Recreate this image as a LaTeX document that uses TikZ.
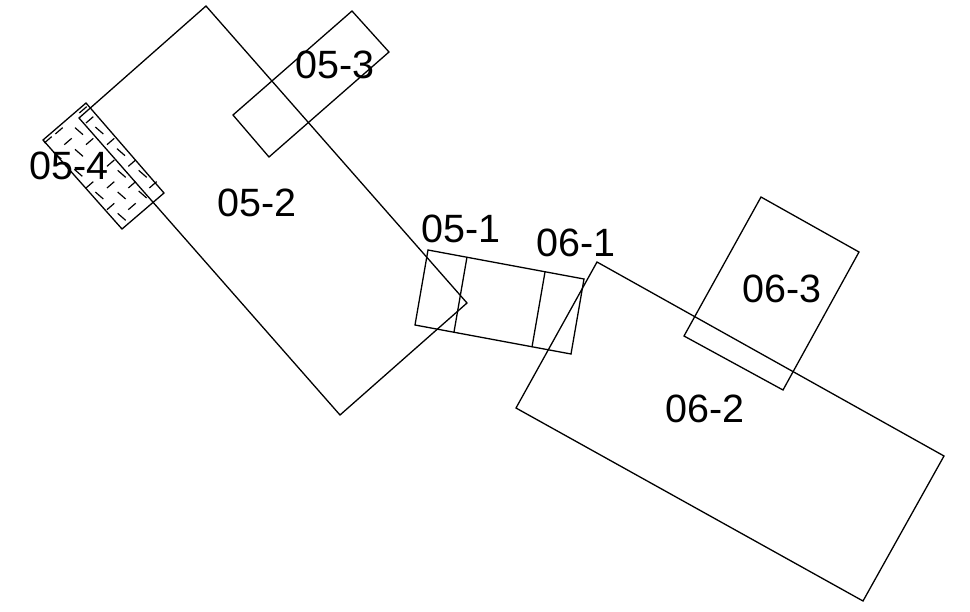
\documentclass[tikz,border=0pt]{standalone}
\usepackage{fontspec}
\setmainfont{Liberation Sans}
\tikzset{
  outline/.style={draw=black,line width=1.3pt,line join=miter},
  tick/.style={draw=black,line width=1.2pt},
  lab/.style={anchor=base west,inner sep=0pt,font=\fontsize{39.5}{40}\selectfont,text=black}
}
\begin{document}
\begin{tikzpicture}[x=1pt,y=-1pt]
\useasboundingbox (0,0) rectangle (970,611);
\fill[white] (0,0) rectangle (970,611);
% hatch dashes (zoomed-crop coordinates -> page)
\begin{scope}[shift={(30,90)},x=0.3333pt,y=-0.3333pt]
\foreach \a/\b in {135/113,196/111,261/176,135/178,133/238,326/241,263/241,196/306,263/306,326/303,263/370,70/186}
  \draw[tick] (\a,\b) -- ++(24,21);
\foreach \a/\b in {168/99,103/164,168/164,231/164,231/229,295/229,168/294,231/294,295/294,358/294,231/359,295/359,76/132,43/159,148/69}
  \draw[tick] (\a,\b) -- ++(22,-19);
\end{scope}
\draw[outline] (206,6) -- (467,303) -- (340,415) -- (79,118) -- cycle;
\draw[outline] (352,11) -- (389,52) -- (269,157) -- (233,115) -- cycle;
\draw[outline] (86,103) -- (164,193) -- (122,229) -- (43,140) -- cycle;
\draw[outline] (428,250) -- (584,279) -- (571,354) -- (415,325) -- cycle;
\draw[outline] (467,257) -- (454,332);
\draw[outline] (545,272) -- (532,347);
\draw[outline] (597,262) -- (944,456) -- (863,601) -- (516,408) -- cycle;
\draw[outline] (761,197) -- (859,252) -- (783,390) -- (684,336) -- cycle;
\node[lab] (n053) at (295,78) {05-3};
\node[lab] (n054) at (29,179) {05-4};
\node[lab] (n052) at (217,216) {05-2};
\node[lab] (n051) at (421,242) {05-1};
\node[lab] (n061) at (536,256) {06-1};
\node[lab] (n063) at (742,302) {06-3};
\node[lab] (n062) at (665,422) {06-2};
\end{tikzpicture}
\end{document}
